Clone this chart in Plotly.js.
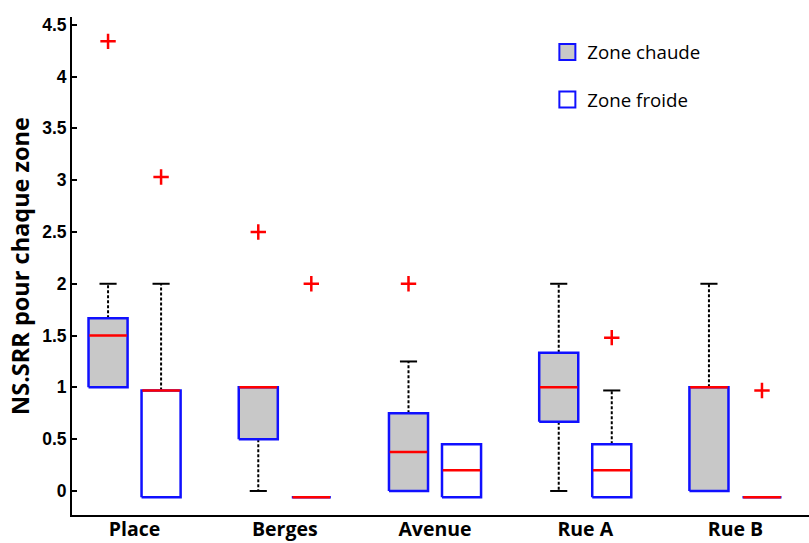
<!DOCTYPE html>
<html>
<head>
<meta charset="utf-8">
<script src="https://cdn.plot.ly/plotly-3.0.1.min.js"></script>
<style>
  html, body { margin: 0; padding: 0; background: #ffffff; }
  #chart { width: 809px; height: 543px; }
</style>
</head>
<body>
<div id="chart"></div>
<script>
// ---------- data ----------
const categories = ['Place', 'Berges', 'Avenue', 'Rue A', 'Rue B'];

// Zone chaude
const chaudeQ1     = [1.0, 0.5, 0.0, 0.667, 0.0];
const chaudeMedian = [1.5, 1.0, 0.375, 1.0, 1.0];
const chaudeQ3     = [1.667, 1.0, 0.75, 1.333, 1.0];
const chaudeLow    = [1.0, 0.0, 0.0, 0.0, 0.0];
const chaudeHigh   = [2.0, 1.0, 1.25, 2.0, 2.0];
const chaudeOutliers = [[4.34], [2.5], [2.0], [], []];

// Zone froide
const froideQ1     = [-0.06, -0.06, -0.06, -0.06, -0.06];
const froideMedian = [0.97, -0.06, 0.2, 0.2, -0.06];
const froideQ3     = [0.97, -0.06, 0.45, 0.45, -0.06];
const froideLow    = [-0.06, -0.06, -0.06, -0.06, -0.06];
const froideHigh   = [2.0, -0.06, 0.45, 0.97, -0.06];
const froideOutliers = [[3.03], [2.0], [], [1.48], [0.97]];

const seriesNames = ['Zone chaude', 'Zone froide'];
const yTickVals = [0, 0.5, 1, 1.5, 2, 2.5, 3, 3.5, 4, 4.5];

// ---------- styling / layout constants ----------
const BLUE = '#1010ff';
const RED = '#ff0000';
const GREY = '#c8c8c8';
const FROIDE_OFFSET = 0.353;
const HALF_BOX = 0.13;
const HALF_CAP = 0.057;
const X_RANGE = [0.76, 5.666];
const Y_RANGE = [-0.232, 4.575];

const chaudePos = categories.map((c, i) => i + 1);
const froidePos = categories.map((c, i) => i + 1 + FROIDE_OFFSET);
const labelPos = categories.map((c, i) => i + 1 + FROIDE_OFFSET / 2);

const series = [
  {name: seriesNames[0], pos: chaudePos, q1: chaudeQ1, med: chaudeMedian, q3: chaudeQ3,
   low: chaudeLow, high: chaudeHigh, out: chaudeOutliers, fill: GREY},
  {name: seriesNames[1], pos: froidePos, q1: froideQ1, med: froideMedian, q3: froideQ3,
   low: froideLow, high: froideHigh, out: froideOutliers, fill: '#ffffff'}
];

const traces = [];

// whiskers (dotted) and caps (solid)
series.forEach(s => {
  const wx = [], wy = [], cx = [], cy = [];
  s.pos.forEach((p, i) => {
    if (s.high[i] > s.q3[i]) {
      wx.push(p, p, null); wy.push(s.q3[i], s.high[i], null);
      cx.push(p - HALF_CAP, p + HALF_CAP, null); cy.push(s.high[i], s.high[i], null);
    }
    if (s.low[i] < s.q1[i]) {
      wx.push(p, p, null); wy.push(s.q1[i], s.low[i], null);
      cx.push(p - HALF_CAP, p + HALF_CAP, null); cy.push(s.low[i], s.low[i], null);
    }
  });
  traces.push({x: wx, y: wy, mode: 'lines', showlegend: false, hoverinfo: 'skip',
    line: {color: '#000000', width: 2, dash: '3px,2px'}});
  traces.push({x: cx, y: cy, mode: 'lines', showlegend: false, hoverinfo: 'skip',
    line: {color: '#000000', width: 2}});
});

// boxes
series.forEach(s => {
  s.pos.forEach((p, i) => {
    traces.push({
      x: [p - HALF_BOX, p + HALF_BOX, p + HALF_BOX, p - HALF_BOX, p - HALF_BOX],
      y: [s.q1[i], s.q1[i], s.q3[i], s.q3[i], s.q1[i]],
      mode: 'lines', fill: 'toself', fillcolor: s.fill,
      line: {color: BLUE, width: 2.5}, showlegend: false, hoverinfo: 'skip'
    });
  });
});

// medians
series.forEach(s => {
  const mx = [], my = [];
  s.pos.forEach((p, i) => {
    mx.push(p - HALF_BOX + 0.005, p + HALF_BOX - 0.005, null);
    my.push(s.med[i], s.med[i], null);
  });
  traces.push({x: mx, y: my, mode: 'lines', showlegend: false, hoverinfo: 'skip',
    line: {color: RED, width: 2.5}});
});

// outliers
series.forEach(s => {
  const ox = [], oy = [];
  s.pos.forEach((p, i) => { s.out[i].forEach(v => { ox.push(p); oy.push(v); }); });
  traces.push({x: ox, y: oy, mode: 'markers', showlegend: false, hoverinfo: 'skip',
    marker: {symbol: 'cross-thin', size: 11, line: {color: RED, width: 2.5}}});
});

// legend entries
series.forEach((s, k) => {
  traces.push({x: [null], y: [null], mode: 'markers', name: s.name,
    legendgroup: 'g' + k, showlegend: true,
    marker: {symbol: 'square', size: 17, color: s.fill, line: {color: BLUE, width: 2}}});
});

const layout = {
  width: 809, height: 543,
  margin: {l: 72, r: 0, t: 17, b: 28, pad: 0},
  paper_bgcolor: '#ffffff', plot_bgcolor: '#ffffff',
  showlegend: true,
  legend: {
    x: 0.645, y: 0.967, xanchor: 'left', yanchor: 'top',
    bgcolor: 'rgba(0,0,0,0)', borderwidth: 0,
    font: {family: 'Open Sans, sans-serif', size: 18.7, color: '#000000'},
    traceorder: 'grouped', tracegroupgap: 20
  },
  xaxis: {
    range: X_RANGE, tickvals: labelPos, ticktext: categories, ticks: '',
    showline: true, linewidth: 2, linecolor: '#000000', mirror: false,
    showgrid: false, zeroline: false, fixedrange: true, ticklabelstandoff: -4,
    tickfont: {family: 'Open Sans, sans-serif', size: 19.5, weight: 'bold', color: '#000000'}
  },
  xaxis2: {
    overlaying: 'x', anchor: 'y', side: 'top', range: X_RANGE,
    tick0: 1, dtick: 0.5, ticks: 'inside', ticklen: 5, tickwidth: 2, tickcolor: '#000000',
    showline: true, linewidth: 2, linecolor: '#000000',
    showticklabels: false, showgrid: false, zeroline: false
  },
  xaxis3: {
    overlaying: 'x', anchor: 'y', side: 'bottom', range: X_RANGE,
    tickvals: chaudePos.concat(froidePos), ticks: 'inside', ticklen: 5, tickwidth: 2,
    tickcolor: '#000000', showline: false, showticklabels: false,
    showgrid: false, zeroline: false
  },
  yaxis: {
    range: Y_RANGE, tickvals: yTickVals, ticks: 'inside', ticklen: 5, tickwidth: 2,
    tickcolor: '#000000', showline: true, linewidth: 2, linecolor: '#000000',
    showgrid: false, zeroline: false, fixedrange: true,
    tickfont: {family: 'Liberation Sans, Arial, sans-serif', size: 17.5, weight: 'bold', color: '#000000'},
    title: {text: 'NS.SRR pour chaque zone', standoff: 6,
      font: {family: 'Open Sans, sans-serif', size: 23.5, weight: 'bold', color: '#000000'}}
  }
};

Plotly.newPlot('chart', traces, layout, {displayModeBar: false, staticPlot: true});
</script>
</body>
</html>
